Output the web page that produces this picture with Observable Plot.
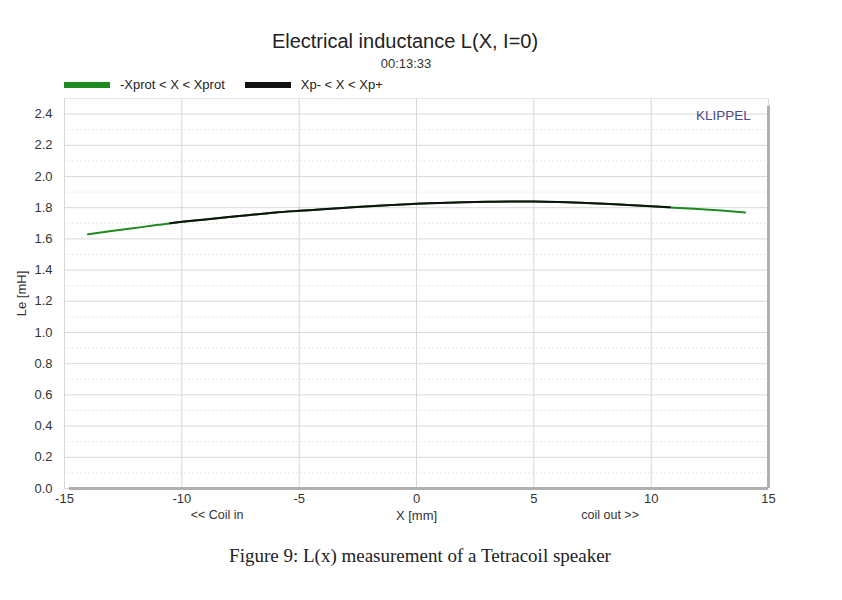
<!DOCTYPE html>
<html>
<head>
<meta charset="utf-8">
<script src="https://cdn.jsdelivr.net/npm/d3@7"></script>
<script src="https://cdn.jsdelivr.net/npm/@observablehq/plot@0.6"></script>
<style>
  body { margin: 0; background: #fff; font-family: "Liberation Sans", Arial, sans-serif; }
  #wrap { position: relative; width: 842px; height: 600px; }
  .abs { position: absolute; white-space: nowrap; }
  #title { left: 0; width: 810px; top: 30px; text-align: center; font-size: 20px; color: #222; }
  #sub { left: 0; width: 812px; top: 56px; text-align: center; font-size: 13px; color: #333; }
  #legend { left: 64px; top: 77px; font-size: 13px; color: #222; display: flex; align-items: center; }
  .sw { display: inline-block; width: 46px; height: 6px; margin-right: 10px; }
  .item { display: flex; align-items: center; margin-right: 20px; }
  #chart { left: 0; top: 90px; }
  #caption { left: 0; width: 840px; top: 545px; text-align: center; font-family: "Liberation Serif", "Times New Roman", serif; font-size: 19px; color: #222; }
</style>
</head>
<body>
<div id="wrap">
  <div id="title" class="abs">Electrical inductance L(X, I=0)</div>
  <div id="sub" class="abs">00:13:33</div>
  <div id="legend" class="abs"></div>
  <div id="chart" class="abs"></div>
  <div id="caption" class="abs">Figure 9: L(x) measurement of a Tetracoil speaker</div>
</div>
<script>
// Data
const seriesNames = ["-Xprot < X < Xprot", "Xp- < X < Xp+"];
const seriesColors = ["#1f8a1f", "#111111"];
// Full range (protection limits)
const xProt = [-14, -13, -12, -11, -10, -9, -8, -7, -6, -5, -4, -3, -2, -1, 0, 1, 2, 3, 4, 5, 6, 7, 8, 9, 10, 11, 12, 13, 14];
const lProt = [1.63, 1.65, 1.67, 1.69, 1.71, 1.725, 1.74, 1.755, 1.77, 1.78, 1.79, 1.80, 1.81, 1.818, 1.825, 1.83, 1.835, 1.838, 1.84, 1.84, 1.837, 1.832, 1.826, 1.818, 1.81, 1.80, 1.792, 1.782, 1.77];
// Inner range (Xp- .. Xp+)
const xInner = [-10.5, -10, -9, -8, -7, -6, -5, -4, -3, -2, -1, 0, 1, 2, 3, 4, 5, 6, 7, 8, 9, 10, 10.8];
const lInner = [1.70, 1.71, 1.725, 1.74, 1.755, 1.77, 1.78, 1.79, 1.80, 1.81, 1.818, 1.825, 1.83, 1.835, 1.838, 1.84, 1.84, 1.837, 1.832, 1.826, 1.818, 1.81, 1.803];
const xTicks = [-15, -10, -5, 0, 5, 10, 15];
const yTicks = [0, 0.2, 0.4, 0.6, 0.8, 1.0, 1.2, 1.4, 1.6, 1.8, 2.0, 2.2, 2.4];
const yMinor = [0.1, 0.3, 0.5, 0.7, 0.9, 1.1, 1.3, 1.5, 1.7, 1.9, 2.1, 2.3, 2.5];
const xSubLabels = [{x: -8.5, t: "<< Coil in"}, {x: 8.25, t: "coil out >>"}];

const prot = xProt.map((x, i) => ({x, y: lProt[i]}));
const inner = xInner.map((x, i) => ({x, y: lInner[i]}));

// legend
const leg = document.getElementById("legend");
seriesNames.forEach((n, i) => {
  const d = document.createElement("div");
  d.className = "item";
  d.innerHTML = `<span class="sw" style="background:${seriesColors[i]}"></span><span>${n}</span>`;
  leg.appendChild(d);
});

const fmtX = d => d < 0 ? "-" + Math.abs(d) : String(d);

const chart = Plot.plot({
  width: 842,
  height: 450,
  marginLeft: 64,
  marginRight: 74,
  marginTop: 8,
  marginBottom: 52,
  style: { fontFamily: "Liberation Sans, Arial, sans-serif", fontSize: "13px", color: "#333", background: "transparent" },
  x: { domain: [-15, 15] },
  y: { domain: [0, 2.5] },
  marks: [
    Plot.ruleY(yMinor, { stroke: "#e6e6e6", strokeDasharray: "2,2" }),
    Plot.gridY(yTicks, { stroke: "#d8d8d8", strokeOpacity: 1 }),
    Plot.gridX(xTicks, { stroke: "#d8d8d8", strokeOpacity: 1 }),
    Plot.ruleY([2.5], { stroke: "#e6e6e6" }),
    Plot.ruleY([0], { x1: -14.8, x2: 15, stroke: "#b0b0b0", strokeWidth: 3 }),
    Plot.ruleX([15], { y1: 0, y2: 2.45, stroke: "#b0b0b0", strokeWidth: 3 }),
    Plot.axisX({ ticks: xTicks, tickSize: 0, tickPadding: 5, tickFormat: fmtX, label: "X [mm]", labelAnchor: "center", labelArrow: "none", labelOffset: 31, fontSize: 13 }),
    Plot.axisY({ ticks: yTicks, tickSize: 0, tickPadding: 12, tickFormat: d => d.toFixed(1), label: "Le [mH]", labelAnchor: "center", labelArrow: "none", labelOffset: 48, fontSize: 13 }),
    Plot.text(xSubLabels, { x: "x", text: "t", frameAnchor: "bottom", dy: 30, fill: "#333", fontSize: 12.5 }),
    Plot.text(["KLIPPEL"], { x: 13.08, y: 2.39, fill: "#4a4a85", fontSize: 13.5 }),
    Plot.line(prot, { x: "x", y: "y", stroke: seriesColors[0], strokeWidth: 2, curve: "natural" }),
    Plot.line(inner, { x: "x", y: "y", stroke: seriesColors[1], strokeWidth: 2, curve: "natural" })
  ]
});
document.getElementById("chart").appendChild(chart);
</script>
</body>
</html>
